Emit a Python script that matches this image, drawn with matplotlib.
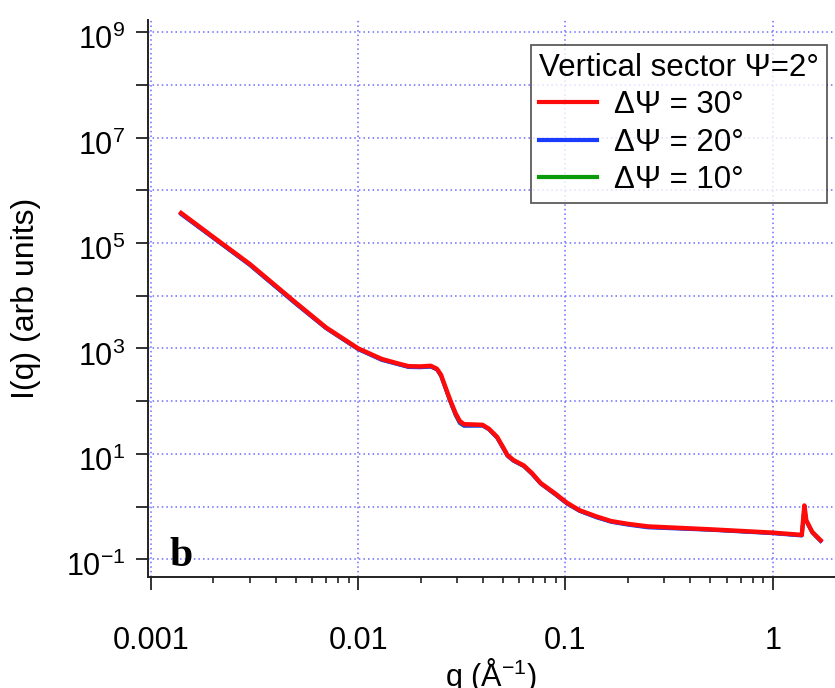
import math

import matplotlib.pyplot as plt
import matplotlib.transforms as mtransforms
from matplotlib.ticker import FixedLocator, FuncFormatter, LogLocator, NullFormatter

plt.rcParams["font.family"] = ["Liberation Sans", "DejaVu Sans"]
plt.rcParams["mathtext.fontset"] = "custom"
plt.rcParams["mathtext.rm"] = "Liberation Sans"
plt.rcParams["mathtext.it"] = "Liberation Sans:italic"
plt.rcParams["mathtext.bf"] = "Liberation Sans:bold"

# -------------------------
# Data
# -------------------------

q = [0.0014, 0.002, 0.003, 0.005, 0.007, 0.01, 0.013, 0.0155, 0.0175, 0.020,
     0.0224, 0.024, 0.0251, 0.0263, 0.0278, 0.0295, 0.0309, 0.0324, 0.0363, 0.0398,
     0.0427, 0.0468, 0.0501, 0.0525, 0.0562, 0.063, 0.069, 0.0759, 0.089, 0.102,
     0.117, 0.141, 0.166, 0.20, 0.25, 0.5, 1.0, 1.38, 1.42, 1.45,
     1.55, 1.70]

i_30 = [3.7e5, 1.3e5, 4.0e4, 7.4e3, 2.5e3, 1.0e3, 630, 520, 460, 455,
        468, 410, 316, 190, 105, 59, 42, 36.5, 36, 35.5,
        30, 21, 13.2, 9.5, 7.6, 6.0, 4.3, 2.8, 1.78, 1.17,
        0.85, 0.65, 0.53, 0.47, 0.42, 0.37, 0.32, 0.29, 1.05, 0.55,
        0.33, 0.23]

i_20 = [3.5e5, 1.24e5, 3.8e4, 7.0e3, 2.4e3, 0.96e3, 600, 500, 440, 435,
        448, 395, 300, 180, 99, 55, 39, 34, 34, 34,
        29, 20, 12.6, 9.1, 7.3, 5.8, 4.1, 2.7, 1.70, 1.12,
        0.82, 0.62, 0.51, 0.45, 0.40, 0.36, 0.31, 0.28, 1.0, 0.53,
        0.32, 0.22]

i_10 = [3.55e5, 1.26e5, 3.85e4, 7.1e3, 2.42e3, 0.97e3, 610, 505, 445, 440,
        452, 398, 303, 182, 98, 54, 38, 34, 34.5, 34.5,
        29.5, 20.3, 12.8, 9.2, 7.4, 5.8, 4.2, 2.75, 1.73, 1.14,
        0.83, 0.63, 0.52, 0.46, 0.41, 0.365, 0.315, 0.285, 1.02, 0.54,
        0.325, 0.225]

labels = ["\u0394\u03a8 = 30\u00b0", "\u0394\u03a8 = 20\u00b0", "\u0394\u03a8 = 10\u00b0"]
legend_title = "Vertical sector \u03a8=2\u00b0"

x_ticks = [0.001, 0.01, 0.1, 1]
x_ticklabels = ["0.001", "0.01", "0.1", "1"]

# -------------------------
# Plot
# -------------------------

fig = plt.figure(figsize=(8.35, 6.88), dpi=100)
ax = fig.add_axes([0.177, 0.161, 0.823, 0.81])

l10, = ax.plot(q, i_10, color="#0a9a0a", lw=2.6, label=labels[2], zorder=3)
l20, = ax.plot(q, i_20, color="#1a3cff", lw=2.6, label=labels[1], zorder=4)
l30, = ax.plot(q, i_30, color="#ff0a0a", lw=3.2, label=labels[0], zorder=5)

ax.set_xscale("log")
ax.set_yscale("log")
ax.set_xlim(10 ** -3.0145, 10 ** 0.30)
ax.set_ylim(10 ** -1.34, 10 ** 9.23)


def y_fmt(v, pos):
    k = round(math.log10(v))
    if k % 2 == 1:
        return "$\\mathregular{10^{%d}}$" % k
    return ""


# y ticks at every decade, labels on odd decades only
ax.yaxis.set_major_locator(FixedLocator([10.0 ** k for k in range(-1, 10)]))
ax.yaxis.set_minor_locator(FixedLocator([]))
ax.yaxis.set_major_formatter(FuncFormatter(y_fmt))

ax.xaxis.set_major_locator(FixedLocator(x_ticks))
ax.set_xticklabels(x_ticklabels)
ax.xaxis.set_minor_locator(LogLocator(base=10, subs=range(2, 10)))
ax.xaxis.set_minor_formatter(NullFormatter())

ax.tick_params(axis="both", which="major", direction="out", length=9, width=1.3,
               labelsize=22, colors="#222222", labelcolor="black")
ax.tick_params(axis="x", which="minor", direction="out", length=4.5, width=1.2, colors="#222222")
ax.tick_params(axis="y", which="major", pad=7)
ax.tick_params(axis="x", which="major", pad=26)

ax.grid(True, which="major", color="#6b6bff", linestyle=(0, (1, 2)), linewidth=1.1)

for side in ["top", "right"]:
    ax.spines[side].set_visible(False)
for side in ["left", "bottom"]:
    ax.spines[side].set_linewidth(1.4)
    ax.spines[side].set_color("#222222")

ax.set_ylabel("I(q) (arb units)", fontsize=23)
ax.yaxis.set_label_coords(-0.156, 0.5)

# x label sits on the bottom edge of the figure, as in the original
ax.set_xlabel("$\\mathregular{q\\ (\u00c5^{-1})}$", fontsize=22)
ax.xaxis.label.set_va("baseline")
ax.xaxis.set_label_coords(0.5, -0.195)

leg = ax.legend(handles=[l30, l20, l10], title=legend_title, loc="upper right",
                bbox_to_anchor=(0.988, 0.955), fontsize=22.5, title_fontsize=22.5,
                frameon=True, fancybox=False, handlelength=1.86, borderpad=0.25,
                labelspacing=0.24, handletextpad=0.55, borderaxespad=0,
                alignment="left")
leg.get_frame().set_edgecolor("#333333")
leg.get_frame().set_linewidth(1.3)
for line in leg.get_lines():
    line.set_linewidth(3)

ax.text(0.032, 0.02, "b", transform=ax.transAxes, fontsize=30, fontweight="bold",
        family="Liberation Serif", ha="left", va="baseline")

# nudge the y tick labels down a little, like the original
fig.canvas.draw()
shift = mtransforms.ScaledTranslation(0, -5 / 100, fig.dpi_scale_trans)
for lab in ax.get_yticklabels():
    lab.set_transform(lab.get_transform() + shift)

fig.savefig("out.png", dpi=100)
plt.close(fig)
